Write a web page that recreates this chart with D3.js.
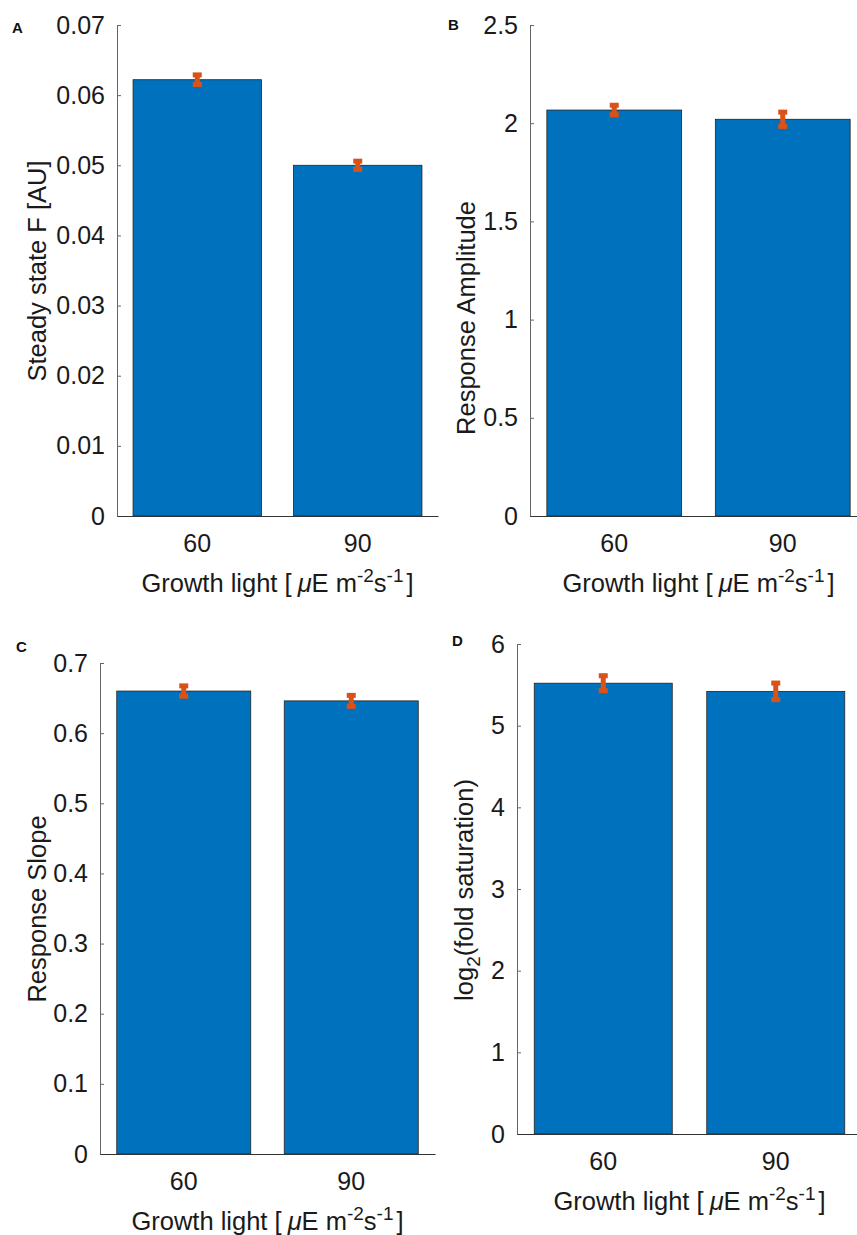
<!DOCTYPE html>
<html>
<head>
<meta charset="utf-8">
<script src="https://cdn.jsdelivr.net/npm/d3@7/dist/d3.min.js"></script>
<style>
  html, body { margin: 0; padding: 0; background: #fff; }
  svg { display: block; font-family: "Liberation Sans", Arial, Helvetica, sans-serif; }
</style>
</head>
<body>
<svg id="fig" width="857" height="1235"></svg>
<script>
// Growth light categories shared by all panels
const categories = ["60", "90"];

// Panel A: steady state fluorescence
const steadyStateF = [0.0622, 0.0500];
const steadyStateErr = [0.0009, 0.0008];
const ticksA = [0, 0.01, 0.02, 0.03, 0.04, 0.05, 0.06, 0.07];

// Panel B: response amplitude
const responseAmplitude = [2.067, 2.020];
const responseAmplitudeErr = [0.032, 0.044];
const ticksB = [0, 0.5, 1, 1.5, 2, 2.5];

// Panel C: response slope
const responseSlope = [0.660, 0.646];
const responseSlopeErr = [0.0095, 0.010];
const ticksC = [0, 0.1, 0.2, 0.3, 0.4, 0.5, 0.6, 0.7];

// Panel D: log2 fold saturation
const foldSaturation = [5.52, 5.42];
const foldSaturationErr = [0.11, 0.12];
const ticksD = [0, 1, 2, 3, 4, 5, 6];

const BAR_COLOR = "#0072BD";
const ERR_COLOR = "#D95319";
const TICK_FONT = 25;
const LABEL_FONT = 25.5;
const SUP_FONT = 19;

const svg = d3.select("#fig");

const panels = [
  { letter: "A", lx: 12, ly: 33, left: 117, right: 438, top: 25, bottom: 516,
    values: steadyStateF, errs: steadyStateErr, ticks: ticksA,
    ylabel: "Steady state F [AU]", ylx: 46, yly: 271 },
  { letter: "B", lx: 448, ly: 30, left: 530, right: 867, top: 25, bottom: 516,
    values: responseAmplitude, errs: responseAmplitudeErr, ticks: ticksB,
    ylabel: "Response Amplitude", ylx: 475, yly: 318 },
  { letter: "C", lx: 16, ly: 652, left: 100, right: 435, top: 663, bottom: 1154,
    values: responseSlope, errs: responseSlopeErr, ticks: ticksC,
    ylabel: "Response Slope", ylx: 46, yly: 909 },
  { letter: "D", lx: 452, ly: 646, left: 517, right: 862, top: 644, bottom: 1134,
    values: foldSaturation, errs: foldSaturationErr, ticks: ticksD,
    ylabel: null, ylx: 473, yly: 890 }
];

panels.forEach(p => {
  const g = svg.append("g");
  const rows = categories.map((c, i) => ({ c, v: p.values[i], e: p.errs[i] }));

  const x = d3.scaleBand()
    .domain(categories)
    .range([p.left, p.right])
    .paddingInner(0.2)
    .paddingOuter(0.1);

  const y = d3.scaleLinear()
    .domain([0, d3.max(p.ticks)])
    .range([p.bottom, p.top]);

  // bars
  g.selectAll("rect.bar")
    .data(rows)
    .join("rect")
    .attr("class", "bar")
    .attr("x", d => x(d.c))
    .attr("y", d => y(d.v))
    .attr("width", x.bandwidth())
    .attr("height", d => y(0) - y(d.v))
    .attr("fill", BAR_COLOR)
    .attr("stroke", "#222")
    .attr("stroke-width", 0.8);

  // y axis with inward ticks
  const yAxis = d3.axisLeft(y)
    .tickValues(p.ticks)
    .tickSizeInner(-4)
    .tickSizeOuter(-4)
    .tickPadding(12)
    .tickFormat(d => d === 0 ? "0" : d3.format("~g")(d));
  const ya = g.append("g")
    .attr("transform", `translate(${p.left},0)`)
    .call(yAxis);
  ya.select(".domain").attr("stroke", "#666").attr("stroke-width", 1);
  ya.selectAll(".tick line").attr("stroke", "#666");
  ya.selectAll(".tick text")
    .attr("font-size", TICK_FONT)
    .attr("fill", "#1a1a1a")
    .attr("font-family", "Liberation Sans, Arial, sans-serif");

  // x axis: baseline plus category labels
  const xAxis = d3.axisBottom(x).tickSize(0).tickPadding(18);
  const xa = g.append("g")
    .attr("transform", `translate(0,${p.bottom})`)
    .call(xAxis);
  xa.select(".domain").attr("stroke", "#333").attr("stroke-width", 1);
  xa.selectAll(".tick text")
    .attr("font-size", TICK_FONT)
    .attr("fill", "#1a1a1a")
    .attr("font-family", "Liberation Sans, Arial, sans-serif");

  // error bars
  const eb = g.selectAll("g.err")
    .data(rows)
    .join("g")
    .attr("class", "err");
  eb.append("line")
    .attr("x1", d => x(d.c) + x.bandwidth() / 2)
    .attr("x2", d => x(d.c) + x.bandwidth() / 2)
    .attr("y1", d => y(d.v - d.e))
    .attr("y2", d => y(d.v + d.e))
    .attr("stroke", ERR_COLOR)
    .attr("stroke-width", 5);
  [-1, 1].forEach(s => {
    eb.append("rect")
      .attr("x", d => x(d.c) + x.bandwidth() / 2 - 4.5)
      .attr("y", d => s > 0 ? y(d.v + d.e) - 1 : y(d.v - d.e) - 4)
      .attr("width", 9)
      .attr("height", 5)
      .attr("fill", ERR_COLOR);
  });

  // x label
  const xl = g.append("text")
    .attr("x", (x("60") + x("90") + x.bandwidth()) / 2)
    .attr("y", p.bottom + 76)
    .attr("text-anchor", "middle")
    .attr("font-size", LABEL_FONT)
    .attr("fill", "#1a1a1a");
  xl.append("tspan").text("Growth light [");
  xl.append("tspan").attr("dx", 6).attr("font-style", "italic").text("μ");
  xl.append("tspan").text("E m");
  xl.append("tspan").attr("dy", -10).attr("font-size", SUP_FONT).text("-2");
  xl.append("tspan").attr("dy", 10).text("s");
  xl.append("tspan").attr("dy", -10).attr("font-size", SUP_FONT).text("-1");
  xl.append("tspan").attr("dy", 10).attr("dx", 3).text("]");

  // y label
  const yl = g.append("text")
    .attr("transform", `translate(${p.ylx},${p.yly}) rotate(-90)`)
    .attr("text-anchor", "middle")
    .attr("font-size", LABEL_FONT)
    .attr("fill", "#1a1a1a");
  if (p.ylabel) {
    yl.text(p.ylabel);
  } else {
    yl.append("tspan").text("log");
    yl.append("tspan").attr("dy", 7).attr("font-size", SUP_FONT).text("2");
    yl.append("tspan").attr("dy", -7).text("(fold saturation)");
  }

  // panel letter
  g.append("text")
    .attr("x", p.lx)
    .attr("y", p.ly)
    .attr("font-size", 15)
    .attr("font-weight", "bold")
    .attr("fill", "#111")
    .text(p.letter);
});
</script>
</body>
</html>
